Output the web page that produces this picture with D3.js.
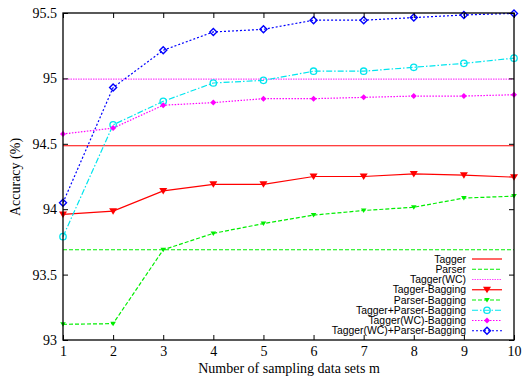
<!DOCTYPE html>
<html><head><meta charset="utf-8">
<script src="https://cdn.jsdelivr.net/npm/d3@7"></script>
<style>body{margin:0;background:#fff}svg{display:block}</style>
</head><body>
<script>
const xs = [1,2,3,4,5,6,7,8,9,10];
const xTicks = [1,2,3,4,5,6,7,8,9,10];
const yTicks = [93,93.5,94,94.5,95,95.5];
const yTickLabels = ["93","93.5","94","94.5","95","95.5"];
const taggerBase = 94.485;
const parserBase = 93.69;
const taggerWCBase = 94.995;
const taggerBagging = [93.96,93.985,94.14,94.19,94.19,94.25,94.25,94.27,94.26,94.245];
const parserBagging = [93.12,93.125,93.69,93.815,93.89,93.955,93.99,94.015,94.085,94.10];
const taggerParserBagging = [93.79,94.645,94.825,94.965,94.985,95.055,95.055,95.085,95.115,95.155];
const taggerWCBagging = [94.575,94.62,94.795,94.815,94.845,94.845,94.855,94.865,94.865,94.875];
const taggerWCParserBagging = [94.05,94.93,95.215,95.355,95.375,95.445,95.445,95.465,95.485,95.497];
const legendLabels = ["Tagger","Parser","Tagger(WC)","Tagger-Bagging","Parser-Bagging","Tagger+Parser-Bagging","Tagger(WC)-Bagging","Tagger(WC)+Parser-Bagging"];

const W=523,H=378;
const L=63,R=514,T=13,B=340;
const svg=d3.select("body").append("svg").attr("width",W).attr("height",H);
const x=d3.scaleLinear().domain([1,10]).range([L,R]);
const y=d3.scaleLinear().domain([93,95.5]).range([B,T]);
const serif="'Liberation Serif','Times New Roman',serif";
const sans="'Liberation Sans',Arial,sans-serif";

const styles=[
 {color:"#ff0000",dash:null,w:1.2,marker:null},
 {color:"#00ee00",dash:"4,2",w:1.2,marker:null},
 {color:"#ff44ff",dash:"1.5,1",w:1.2,marker:null},
 {color:"#ff0000",dash:null,w:1.2,marker:"tri"},
 {color:"#00ee00",dash:"4,2",w:1.2,marker:"smalltri"},
 {color:"#00e5ee",dash:"6,2,1.5,2",w:1.2,marker:"circle"},
 {color:"#ff00ff",dash:"1.5,1.5",w:1.2,marker:"smalldiamond"},
 {color:"#0000ff",dash:"2,2",w:1.2,marker:"diamond"}
];

function drawMarker(g,type,cx,cy,color){
  if(type==="tri"){
    g.append("path").attr("d",`M${cx-4},${cy-3}L${cx+4},${cy-3}L${cx},${cy+3.5}Z`).attr("fill",color);
  } else if(type==="smalltri"){
    g.append("path").attr("d",`M${cx-2.8},${cy-2}L${cx+2.8},${cy-2}L${cx},${cy+2.5}Z`).attr("fill",color);
  } else if(type==="circle"){
    g.append("circle").attr("cx",cx).attr("cy",cy).attr("r",3.2).attr("fill","none").attr("stroke",color).attr("stroke-width",1.3);
  } else if(type==="smalldiamond"){
    g.append("path").attr("d",`M${cx},${cy-3}L${cx+3},${cy}L${cx},${cy+3}L${cx-3},${cy}Z`).attr("fill",color);
  } else if(type==="diamond"){
    g.append("path").attr("d",`M${cx},${cy-3.5}L${cx+3.5},${cy}L${cx},${cy+3.5}L${cx-3.5},${cy}Z`).attr("fill","none").attr("stroke",color).attr("stroke-width",1.4);
  }
}

const baselines=[taggerBase,parserBase,taggerWCBase];
baselines.forEach((v,i)=>{
  const s=styles[i];
  svg.append("line").attr("x1",L).attr("x2",R).attr("y1",y(v)).attr("y2",y(v))
    .attr("stroke",s.color).attr("stroke-width",s.w).attr("stroke-dasharray",s.dash);
});

const seriesData=[null,null,null,taggerBagging,parserBagging,taggerParserBagging,taggerWCBagging,taggerWCParserBagging];
const line=d3.line().x((d,i)=>x(xs[i])).y(d=>y(d));
seriesData.forEach((arr,i)=>{
  if(!arr) return;
  const s=styles[i];
  svg.append("path").datum(arr).attr("d",line).attr("fill","none")
    .attr("stroke",s.color).attr("stroke-width",s.w).attr("stroke-dasharray",s.dash);
  const g=svg.append("g");
  arr.forEach((v,j)=>drawMarker(g,s.marker,x(xs[j]),y(v),s.color));
});

svg.append("rect").attr("x",L).attr("y",T).attr("width",R-L).attr("height",B-T)
  .attr("fill","none").attr("stroke","#000").attr("stroke-width",1.3);

const gx=svg.append("g").attr("transform",`translate(0,${B})`)
  .call(d3.axisBottom(x).tickValues(xTicks).tickSize(-5).tickPadding(6).tickFormat(d3.format("d")));
const gxt=svg.append("g").attr("transform",`translate(0,${T})`)
  .call(d3.axisTop(x).tickValues(xTicks).tickSize(-5).tickFormat(""));
const gy=svg.append("g").attr("transform",`translate(${L},0)`)
  .call(d3.axisLeft(y).tickValues(yTicks).tickSize(-5).tickPadding(6).tickFormat((d,i)=>yTickLabels[i]));
const gyr=svg.append("g").attr("transform",`translate(${R},0)`)
  .call(d3.axisRight(y).tickValues(yTicks).tickSize(-5).tickFormat(""));
[gx,gxt,gy,gyr].forEach(g=>{
  g.select(".domain").remove();
  g.selectAll(".tick line").attr("stroke","#000").attr("stroke-width",1);
  g.selectAll("text").attr("font-family",serif).attr("font-size",14).attr("fill","#000");
});

svg.append("text").attr("x",289).attr("y",373).attr("text-anchor","middle")
  .attr("font-family",serif).attr("font-size",14).text("Number of sampling data sets m");
svg.append("text").attr("transform","translate(20,177) rotate(-90)").attr("text-anchor","middle")
  .attr("font-family",serif).attr("font-size",14).text("Accuracy (%)");

const lg=svg.append("g");
legendLabels.forEach((lab,i)=>{
  const cy=259+i*10.25;
  const s=styles[i];
  lg.append("text").attr("x",466).attr("y",cy).attr("dy","0.36em").attr("text-anchor","end")
    .attr("font-family",sans).attr("font-size",10.4).text(lab);
  lg.append("line").attr("x1",472).attr("x2",502).attr("y1",cy).attr("y2",cy)
    .attr("stroke",s.color).attr("stroke-width",s.w).attr("stroke-dasharray",s.dash);
  if(s.marker) drawMarker(lg,s.marker,487,cy,s.color);
});
</script>
</body></html>
